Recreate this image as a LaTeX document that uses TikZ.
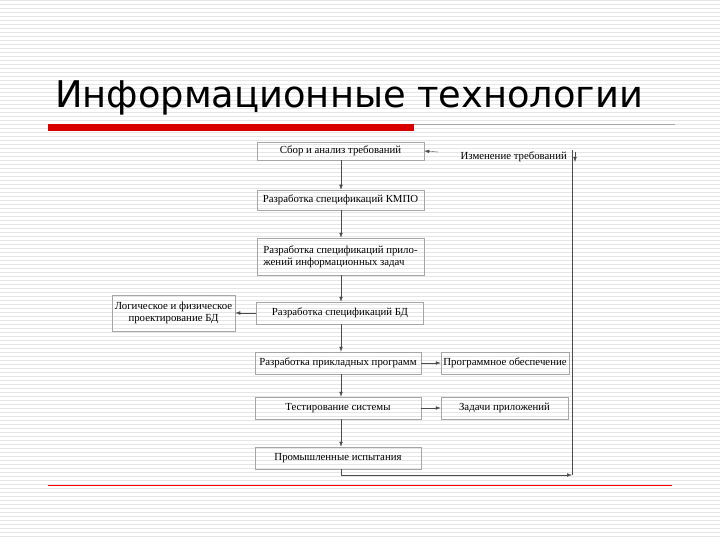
\documentclass[tikz,border=0pt]{standalone}
\usepackage{fontspec}
\setmainfont{Liberation Serif}
\newfontfamily\titlefont{DejaVu Sans}
\usetikzlibrary{arrows.meta}
\begin{document}
\begin{tikzpicture}[x=1pt,y=-1pt,
  bx/.style={draw=gray!70,line width=0.5pt,inner sep=1pt,align=center,font=\fontsize{10.8}{12}\selectfont,minimum height=20pt},
  arr/.style={-{Latex[length=5pt,width=3.5pt]},line width=0.4pt,black!70}]
\useasboundingbox (0,0) rectangle (720,540);
\fill[white] (0,0) rectangle (720,540);
\foreach \i in {0,4,...,540} \draw[black!10,line width=0.6pt] (0,\i) -- (720,\i);
\node[anchor=base west,inner sep=0,font=\titlefont\fontsize{36.8}{42}\selectfont] (title) at (55,108) {Информационные технологии};
\fill[red!85!black] (48,124) rectangle (414,131);
\draw[gray!70,line width=0.5pt] (414,124) -- (675,124);
\fill[red] (48,484.5) rectangle (672,486);
\node[bx,minimum width=167pt,minimum height=18pt] (b1) at (340.5,151) {Сбор и анализ требований};
\node[bx,minimum width=167pt] (b2) at (340.5,200) {Разработка спецификаций КМПО};
\node[bx,minimum width=167pt,minimum height=37pt,align=left] (b3) at (340.5,256.5) {Разработка спецификаций прило-\\ жений информационных задач};
\node[bx,minimum width=167pt,minimum height=22pt] (b4) at (340,313) {Разработка спецификаций БД};
\node[bx,minimum width=123pt,minimum height=36pt] (b5) at (173.5,313) {Логическое и физическое\\проектирование БД};
\node[bx,minimum width=166pt,minimum height=22pt] (b6) at (338,363) {Разработка прикладных программ};
\node[bx,minimum width=128pt,minimum height=22pt] (b7) at (505,363) {Программное обеспечение};
\node[bx,minimum width=166pt,minimum height=22pt] (b8) at (338,408) {Тестирование системы};
\node[bx,minimum width=127pt,minimum height=22pt] (b9) at (504.5,408) {Задачи приложений};
\node[bx,minimum width=166pt,minimum height=22pt] (b10) at (338,458) {Промышленные испытания};
\node[font=\fontsize{10.8}{12}\selectfont,inner sep=1pt,anchor=east] (chg) at (568,157) {Изменение требований};
\coordinate (top) at (572,150);
\coordinate (bot) at (572,475);
\coordinate (start) at (341,475);
\draw[arr] (b1.south -| 341,0) -- (b2.north -| 341,0);
\draw[arr] (b2.south -| 341,0) -- (b3.north -| 341,0);
\draw[arr] (b3.south -| 341,0) -- (b4.north -| 341,0);
\draw[arr] (b4.south -| 341,0) -- (b6.north -| 341,0);
\draw[arr] (b6.south -| 341,0) -- (b8.north -| 341,0);
\draw[arr] (b8.south -| 341,0) -- (b10.north -| 341,0);
\draw[arr] (b4.west) -- (b5.east);
\draw[arr] (b6.east) -- (b7.west);
\draw[arr] (b8.east) -- (b9.west);
\draw[arr] (b10.south -| 341,0) -- (start) -- (bot);
\draw[line width=0.4pt,black!70] (bot) -- (top);
\draw[arr] (575,152) -- (575,162);
\draw[arr] (438,152) -- (b1.east);
\end{tikzpicture}
\end{document}
